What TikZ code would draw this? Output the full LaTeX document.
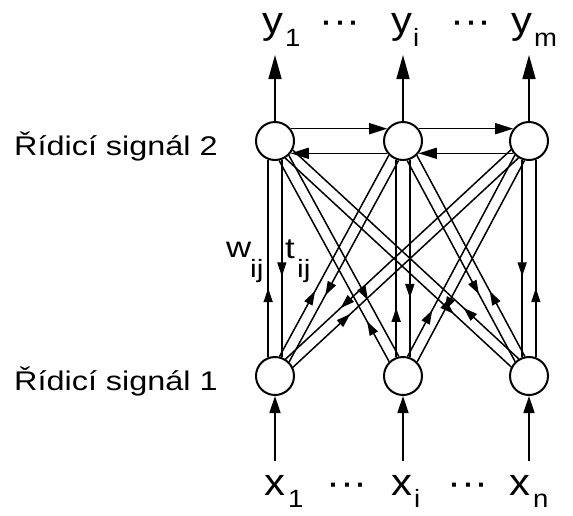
\documentclass[tikz,border=0pt]{standalone}
\usepackage{fontspec}
\setmainfont{Liberation Sans}
\newfontfamily\labfont[FakeStretch=1.2]{Liberation Sans}
\newfontfamily\xyfont[FakeStretch=1.1]{Liberation Sans}
\usetikzlibrary{arrows.meta,decorations.markings}
\tikzset{
  smalltip/.tip={Triangle[length=14pt,width=9pt]},
  neuron/.style={circle,draw,fill=white,minimum size=38pt,inner sep=0pt,line width=2pt},
  link/.style={line width=1.5pt},
  dn/.style={postaction={decorate,decoration={markings,mark=at position #1 with {\arrow{smalltip}}}}},
  up/.style={postaction={decorate,decoration={markings,mark=at position #1 with {\arrowreversed{smalltip}}}}},
  lat/.style={line width=1.6pt,-{Triangle[length=18pt,width=11pt]}},
  outarr/.style={line width=1.6pt,-{Triangle[length=24pt,width=13pt]}},
  inarr/.style={line width=1.6pt,-{Triangle[length=17pt,width=11pt]}},
  big/.style={inner sep=0pt,anchor=base west,font=\xyfont\fontsize{38}{40}\selectfont},
  dots/.style={inner sep=0pt,anchor=base,font=\xyfont\fontsize{38}{40}\selectfont},
  ctl/.style={inner sep=0pt,anchor=base west,font=\labfont\fontsize{27}{30}\selectfont},
  wt/.style={inner sep=0pt,anchor=base west,font=\labfont\fontsize{29}{30}\selectfont},
}
\newcommand\sbs[1]{{\fontsize{25}{26}\selectfont #1}}
\begin{document}
\begin{tikzpicture}[x=1pt,y=-1pt]
\useasboundingbox (0,0) rectangle (573,515);
% neurons
\node[neuron] (T1) at (275,141) {};
\node[neuron] (T2) at (403,141) {};
\node[neuron] (T3) at (529,141) {};
\node[neuron] (B1) at (275,376) {};
\node[neuron] (B2) at (403,376) {};
\node[neuron] (B3) at (529,376) {};
% vertical pairs
\draw[link,up=0.65] (T1.250) -- (B1.110);
\draw[link,dn=0.59] (T1.290) -- (B1.70);
\draw[link,up=0.75] (T2.250) -- (B2.110);
\draw[link,dn=0.70] (T2.290) -- (B2.70);
\draw[link,dn=0.59] (T3.250) -- (B3.110);
\draw[link,up=0.65] (T3.290) -- (B3.70);
% B1 - T2 (alpha 61.4)
\draw[link,up=0.675] (T2.225.4) -- (B1.77.4);
\draw[link,dn=0.67] (T2.257.4) -- (B1.45.4);
% B1 - T3 (alpha 42.8)
\draw[link,dn=0.756] (T3.206.8) -- (B1.58.8);
\draw[link,up=0.746] (T3.238.8) -- (B1.26.8);
% B2 - T1 (alpha 118.6)
\draw[link,up=0.80] (T1.282.6) -- (B2.134.6);
\draw[link,dn=0.72] (T1.314.6) -- (B2.102.6);
% B2 - T3 (alpha 61.4)
\draw[link,up=0.77] (T3.225.4) -- (B2.77.4);
\draw[link,dn=0.746] (T3.257.4) -- (B2.45.4);
% B3 - T1 (alpha 137.2)
\draw[link,dn=0.746] (T1.301.2) -- (B3.153.2);
\draw[link,up=0.756] (T1.333.2) -- (B3.121.2);
% B3 - T2 (alpha 118.6)
\draw[link,dn=0.665] (T2.282.6) -- (B3.134.6);
\draw[link,up=0.675] (T2.314.6) -- (B3.102.6);
% lateral
\draw[lat] (T1.38) -- (T2.142);
\draw[lat] (T2.38) -- (T3.142);
\draw[lat] (T2.218) -- (T1.322);
\draw[lat] (T3.218) -- (T2.322);
% outputs
\coordinate (O1) at (275,55);
\coordinate (O2) at (403,55);
\coordinate (O3) at (529,55);
\draw[outarr] (T1.north) -- (O1);
\draw[outarr] (T2.north) -- (O2);
\draw[outarr] (T3.north) -- (O3);
% inputs
\coordinate (I1) at (275,461);
\coordinate (I2) at (403,461);
\coordinate (I3) at (529,461);
\draw[inarr] (I1) -- (B1.south);
\draw[inarr] (I2) -- (B2.south);
\draw[inarr] (I3) -- (B3.south);
% labels
\node[big] (y1) at (262,33) {y\hspace{2pt}\raisebox{-13pt}{\sbs{1}}};
\node[big] (yi) at (391,33) {y\hspace{1pt}\raisebox{-13pt}{\sbs{i}}};
\node[big] (ym) at (511,33) {y\hspace{2pt}\raisebox{-13pt}{\sbs{m}}};
\node[dots] (d1) at (340,33) {\textperiodcentered\textperiodcentered\textperiodcentered};
\node[dots] (d2) at (471,33) {\textperiodcentered\textperiodcentered\textperiodcentered};
\node[big] (x1) at (264,495) {x\hspace{3pt}\raisebox{-12pt}{\sbs{1}}};
\node[big] (xi) at (391,495) {x\hspace{2pt}\raisebox{-12pt}{\sbs{i}}};
\node[big] (xn) at (509,495) {x\hspace{3pt}\raisebox{-12pt}{\sbs{n}}};
\node[dots] (d3) at (347,495) {\textperiodcentered\textperiodcentered\textperiodcentered};
\node[dots] (d4) at (468,495) {\textperiodcentered\textperiodcentered\textperiodcentered};
\node[ctl] (c2) at (14,155) {Řídicí signál 2};
\node[ctl] (c1) at (14,390) {Řídicí signál 1};
\node[wt] (w) at (226,257) {w};
\node[wt] (wij) at (250,277) {\fontsize{25}{26}\selectfont ij};
\node[wt] (t) at (285,258) {t};
\node[wt] (tij) at (297,277) {\fontsize{25}{26}\selectfont ij};
\end{tikzpicture}
\end{document}
